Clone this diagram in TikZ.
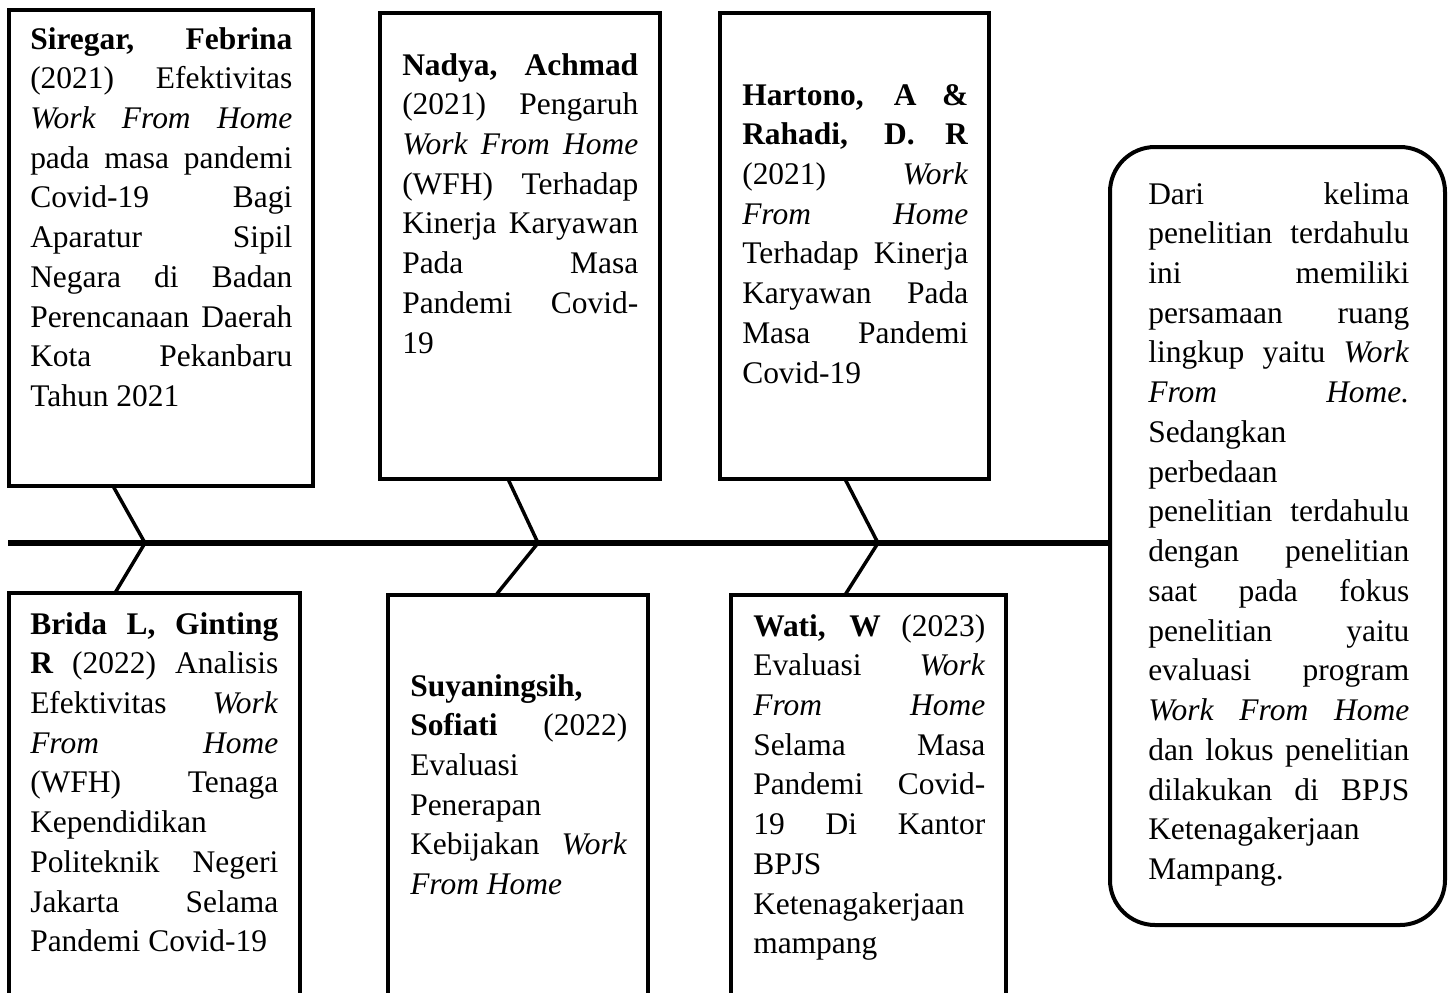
\documentclass[tikz,border=0pt]{standalone}
\usepackage{fontspec}
\setmainfont{Liberation Serif}
\usetikzlibrary{positioning}

\newdimen\px
\px=0.75pt
\tolerance=10000
\hbadness=10000

\tikzset{
  kotak/.style={draw, line width=3pt, rectangle, inner sep=0pt, outer sep=0pt, anchor=north west},
  isi/.style={text width=#1\px, align=justify, inner sep=0pt, anchor=base west, font=\fontsize{23.6}{29.8}\selectfont},
  tulang/.style={line width=2.6pt},
  duri/.style={line width=4.5pt},
}

\begin{document}
\begin{tikzpicture}[x=0.75pt, y=-0.75pt]  % one unit = one pixel of the reference
    \useasboundingbox (0,0) rectangle (1454,993);
    \clip (0,0) rectangle (1454,993);

    % Boxes
    \node[kotak, minimum width=304\px, minimum height=476\px] (kotak1) at (9,10) {};
    \node[kotak, minimum width=280\px, minimum height=466\px] (kotak2) at (380,13) {};
    \node[kotak, minimum width=269\px, minimum height=466\px] (kotak3) at (720,13) {};
    \node[kotak, minimum width=291\px, minimum height=430\px] (kotak4) at (9,593) {};
    \node[kotak, minimum width=260\px, minimum height=430\px] (kotak5) at (388,595) {};
    \node[kotak, minimum width=275\px, minimum height=430\px] (kotak6) at (731,595) {};
    \node[kotak, rounded corners=45\px, minimum width=335\px, minimum height=778\px] (kotakSimpulan) at (1110,147) {};

    % Texts
    \node[isi=262] (siregar) at (30,49) {\textbf{Siregar, Febrina}\linebreak (2021) Efektivitas\linebreak \textit{Work From Home}\linebreak pada masa pandemi\linebreak Covid-19 Bagi\linebreak Aparatur Sipil\linebreak Negara di Badan\linebreak Perencanaan Daerah\linebreak Kota Pekanbaru\linebreak Tahun 2021};
    \node[isi=236] (nadya) at (402,75) {\textbf{Nadya, Achmad}\linebreak (2021) Pengaruh\linebreak \textit{Work From Home}\linebreak (WFH) Terhadap\linebreak Kinerja Karyawan\linebreak Pada Masa\linebreak Pandemi Covid-\linebreak 19};
    \node[isi=226] (hartono) at (742,105) {\textbf{Hartono, A \&}\linebreak \textbf{Rahadi, D. R}\linebreak (2021) \textit{Work}\linebreak \textit{From Home}\linebreak Terhadap Kinerja\linebreak Karyawan Pada\linebreak Masa Pandemi\linebreak Covid-19};
    \node[isi=248] (brida) at (30,634) {\textbf{Brida L, Ginting}\linebreak \textbf{R} (2022) Analisis\linebreak Efektivitas \textit{Work}\linebreak \textit{From Home}\linebreak (WFH) Tenaga\linebreak Kependidikan\linebreak Politeknik Negeri\linebreak Jakarta Selama\linebreak Pandemi Covid-19};
    \node[isi=217] (suyaningsih) at (410,696) {\textbf{Suyaningsih,}\linebreak \textbf{Sofiati} (2022)\linebreak Evaluasi\linebreak Penerapan\linebreak Kebijakan \textit{Work}\linebreak \textit{From Home}};
    \node[isi=232] (wati) at (753,636) {\textbf{Wati, W} (2023)\linebreak Evaluasi \textit{Work}\linebreak \textit{From Home}\linebreak Selama Masa\linebreak Pandemi Covid-\linebreak 19 Di Kantor\linebreak BPJS\linebreak Ketenagakerjaan\linebreak mampang};
    \node[isi=261] (simpulan) at (1148,204) {Dari kelima\linebreak penelitian terdahulu\linebreak ini memiliki\linebreak persamaan ruang\linebreak lingkup yaitu \textit{Work}\linebreak \textit{From Home.}\linebreak Sedangkan\linebreak perbedaan\linebreak penelitian terdahulu\linebreak dengan penelitian\linebreak saat pada fokus\linebreak penelitian yaitu\linebreak evaluasi program\linebreak \textit{Work From Home}\linebreak dan lokus penelitian\linebreak dilakukan di BPJS\linebreak Ketenagakerjaan\linebreak Mampang.};

    % Spine
    \coordinate (ekor) at (8,543);
    \coordinate (s1) at (145,543);
    \coordinate (s2) at (538,543);
    \coordinate (s3) at (878,543);
    \draw[duri] (ekor) -- (ekor -| kotakSimpulan.west);

    % Bones
    \draw[tulang] ([xshift=104\px]kotak1.south west) -- (s1) -- ([xshift=106\px]kotak4.north west);
    \draw[tulang] ([xshift=128\px]kotak2.south west) -- (s2) -- ([xshift=108\px]kotak5.north west);
    \draw[tulang] ([xshift=125\px]kotak3.south west) -- (s3) -- ([xshift=114\px]kotak6.north west);
\end{tikzpicture}
\end{document}
